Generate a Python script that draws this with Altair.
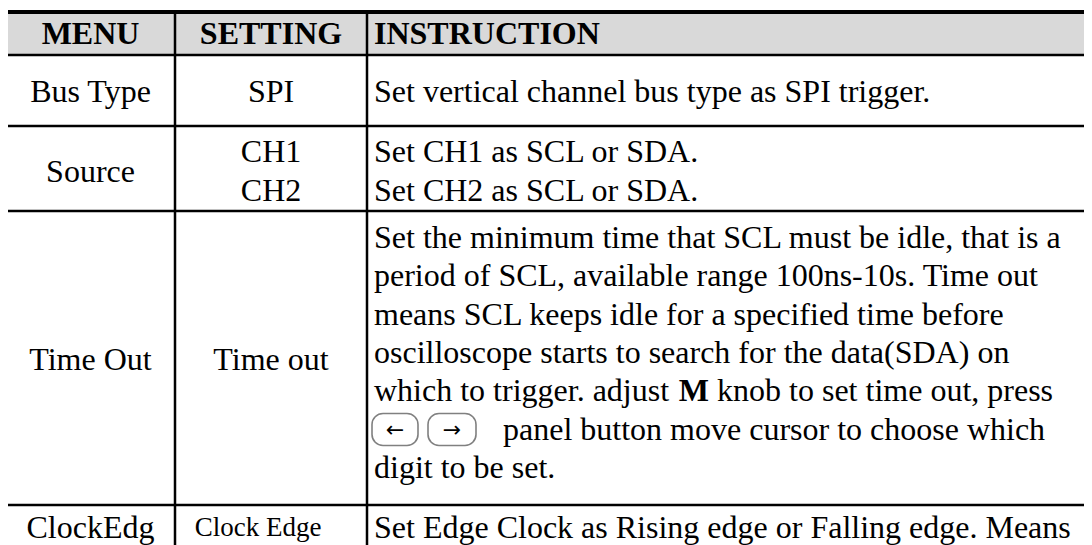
import altair as alt
import pandas as pd

# ---------------- table content ----------------
header_labels = ["MENU", "SETTING", "INSTRUCTION"]
menu_items = ["Bus Type", "Source", "Time Out", "ClockEdg"]
setting_items = [["SPI"], ["CH1", "CH2"], ["Time out"], ["Clock Edge"]]
instruction_rows = [
    ["Set vertical channel bus type as SPI trigger."],
    ["Set CH1 as SCL or SDA.", "Set CH2 as SCL or SDA."],
    ["Set the minimum time that SCL must be idle, that is a",
     "period of SCL, available range 100ns-10s. Time out",
     "means SCL keeps idle for a specified time before",
     "oscilloscope starts to search for the data(SDA) on",
     "", "",
     "digit to be set."],
    ["Set Edge Clock as Rising edge or Falling edge. Means"],
]
mixed_line = ["which to trigger. adjust", "M", "knob to set time out, press"]
button_arrows = ["\u2190", "\u2192"]
button_line_text = "panel button move cursor to choose which"

# ---------------- layout (page pixels) ----------------
W, H = 1076, 537
OFF = 8
col_edges = [6, 175, 367, 1100]
row_edges = [12, 55, 126, 211, 505, 560]
header_center = 34
row_line_centers = [[92], [152, 191], [238 + 38.3 * i for i in range(7)], [528]]
row_label_centers = [92, 172, 360, 528]
FS = 32
PAD = 7

# Times / Liberation Serif advance widths (per 1000 em)
TW = {' ': 250, 'a': 444, 'b': 500, 'c': 444, 'd': 500, 'e': 444, 'f': 333, 'g': 500,
      'h': 500, 'i': 278, 'j': 278, 'k': 500, 'l': 278, 'm': 778, 'n': 500, 'o': 500,
      'p': 500, 'q': 500, 'r': 333, 's': 389, 't': 278, 'u': 500, 'v': 500, 'w': 722,
      'x': 500, 'y': 500, 'z': 444, '.': 250, ',': 250}


def tw(s, size=FS):
    return sum(TW.get(c, 500) for c in s) * size / 1000.0


xs = alt.Scale(domain=[OFF, OFF + W], nice=False, zero=False)
ys = alt.Scale(domain=[OFF, OFF + H], nice=False, zero=False, reverse=True)

col_mid = [(col_edges[i] + col_edges[i + 1]) / 2 for i in range(2)]
instr_x = col_edges[2] + PAD

hdr = pd.DataFrame({
    "x": [col_mid[0], col_mid[1]],
    "y": [header_center] * 2,
    "t": header_labels[:2],
})
hdr_left = pd.DataFrame({"x": [instr_x], "y": [header_center], "t": [header_labels[2]]})

c_rows = []
for i, m in enumerate(menu_items):
    c_rows.append({"x": col_mid[0], "y": row_label_centers[i], "t": m})
for i, items in enumerate(setting_items[:3]):
    centers = row_line_centers[i] if len(items) > 1 else [row_label_centers[i]]
    for t, yy in zip(items, centers):
        c_rows.append({"x": col_mid[1], "y": yy, "t": t})
center_df = pd.DataFrame(c_rows)
small_df = pd.DataFrame({"x": [258], "y": [row_label_centers[3]], "t": setting_items[3]})

l_rows = []
for i, lines in enumerate(instruction_rows):
    for t, yy in zip(lines, row_line_centers[i]):
        if t:
            l_rows.append({"x": instr_x, "y": yy, "t": t})
y_mixed = row_line_centers[2][4]
y_btn = row_line_centers[2][5]
x_m = instr_x + tw(mixed_line[0] + " ")
x_after = x_m + 944 * FS / 1000.0 + tw(" ")
l_rows.append({"x": instr_x, "y": y_mixed, "t": mixed_line[0]})
l_rows.append({"x": x_after, "y": y_mixed, "t": mixed_line[2]})
l_rows.append({"x": 503, "y": y_btn, "t": button_line_text})
left_df = pd.DataFrame(l_rows)
bold_df = pd.DataFrame({"x": [x_m], "y": [y_mixed], "t": [mixed_line[1]]})

btn_df = pd.DataFrame({
    "x": [372, 428], "x2": [418, 476],
    "y": [y_btn - 16, y_btn - 16], "y2": [y_btn + 16, y_btn + 16],
    "cx": [395, 452], "cy": [y_btn, y_btn], "t": button_arrows,
})

hlines = pd.DataFrame({"x": [col_edges[0]] * 4, "x2": [col_edges[3]] * 4,
                       "y": row_edges[1:5]})
top_line = pd.DataFrame({"x": [col_edges[0]], "x2": [col_edges[3]], "y": [row_edges[0]]})
vlines = pd.DataFrame({"x": col_edges[1:3], "y": [row_edges[0]] * 2, "y2": [row_edges[5]] * 2})
hdr_bg = pd.DataFrame({"x": [col_edges[0]], "x2": [col_edges[3]],
                       "y": [row_edges[0]], "y2": [row_edges[1]]})

X = lambda f: alt.X(f, scale=xs, axis=None)
Y = lambda f: alt.Y(f, scale=ys, axis=None)

serif = "Liberation Serif"

bg = alt.Chart(hdr_bg).mark_rect(color="#d9d9d9").encode(
    x=X("x:Q"), x2="x2:Q", y=Y("y:Q"), y2="y2:Q")
h_rules = alt.Chart(hlines).mark_rule(color="black", strokeWidth=2.5).encode(
    x=X("x:Q"), x2="x2:Q", y=Y("y:Q"))
t_rule = alt.Chart(top_line).mark_rule(color="black", strokeWidth=4).encode(
    x=X("x:Q"), x2="x2:Q", y=Y("y:Q"))
v_rules = alt.Chart(vlines).mark_rule(color="black", strokeWidth=2.5).encode(
    x=X("x:Q"), y=Y("y:Q"), y2="y2:Q")

hdr_c = alt.Chart(hdr).mark_text(font=serif, fontSize=FS, fontWeight="bold",
                                 align="center", baseline="middle", color="black").encode(
    x=X("x:Q"), y=Y("y:Q"), text="t:N")
hdr_l = alt.Chart(hdr_left).mark_text(font=serif, fontSize=FS, fontWeight="bold",
                                      align="left", baseline="middle", color="black").encode(
    x=X("x:Q"), y=Y("y:Q"), text="t:N")
body_c = alt.Chart(center_df).mark_text(font=serif, fontSize=FS, align="center",
                                        baseline="middle", color="black").encode(
    x=X("x:Q"), y=Y("y:Q"), text="t:N")
body_s = alt.Chart(small_df).mark_text(font=serif, fontSize=27, align="center",
                                       baseline="middle", color="black").encode(
    x=X("x:Q"), y=Y("y:Q"), text="t:N")
body_l = alt.Chart(left_df).mark_text(font=serif, fontSize=FS, align="left",
                                      baseline="middle", color="black").encode(
    x=X("x:Q"), y=Y("y:Q"), text="t:N")
body_b = alt.Chart(bold_df).mark_text(font=serif, fontSize=FS, fontWeight="bold",
                                      align="left", baseline="middle", color="black").encode(
    x=X("x:Q"), y=Y("y:Q"), text="t:N")
btn = alt.Chart(btn_df).mark_rect(fill="white", stroke="#808080", strokeWidth=1.6,
                                  cornerRadius=11).encode(
    x=X("x:Q"), x2="x2:Q", y=Y("y:Q"), y2="y2:Q")
btn_t = alt.Chart(btn_df).mark_text(font="DejaVu Sans", fontSize=22, align="center",
                                    baseline="middle", color="black").encode(
    x=X("cx:Q"), y=Y("cy:Q"), text="t:N")

chart = alt.layer(bg, h_rules, t_rule, v_rules, hdr_c, hdr_l, body_c, body_s,
                  body_l, body_b, btn, btn_t).properties(
    width=W, height=H, padding=0,
    autosize=alt.AutoSizeParams(type="none"),
    background="white",
).configure_view(stroke=None)

chart.save("out.html", embed_options={"renderer": "svg", "actions": False})
